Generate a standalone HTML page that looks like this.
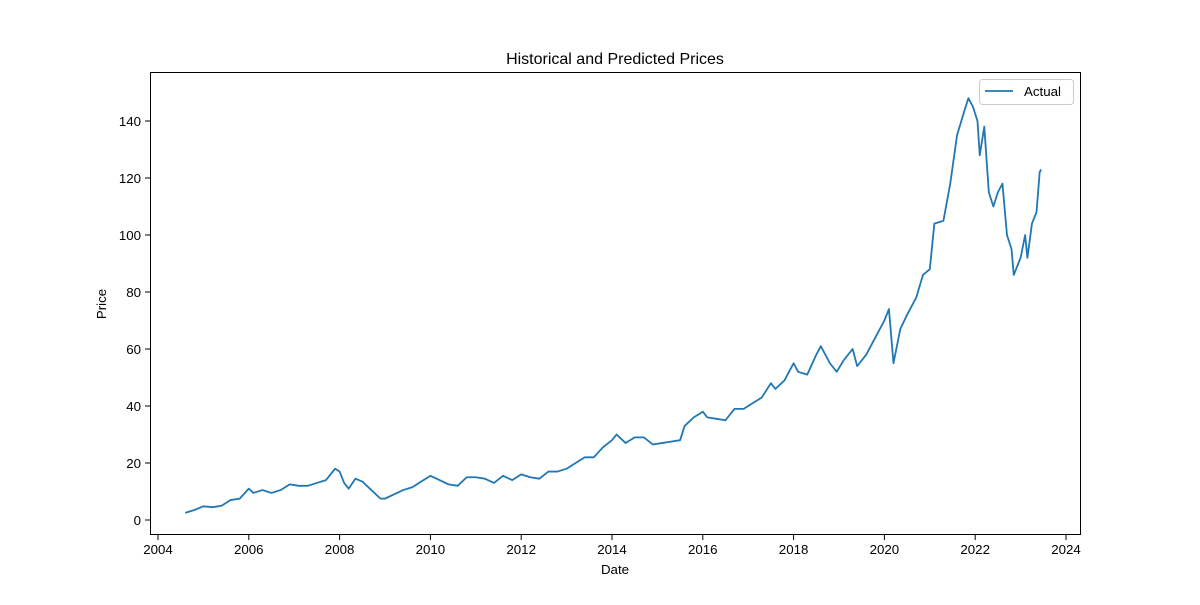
<!DOCTYPE html>
<html><head><meta charset="utf-8"><style>
body{margin:0;background:#fff;}
svg text{font-family:"Liberation Sans","DejaVu Sans",sans-serif;fill:#000;}
</style></head><body>
<svg id="chart" width="1200" height="600">
<rect width="1200" height="600" fill="#fff"/>
<text x="615" y="64" font-size="16" text-anchor="middle">Historical and Predicted Prices</text>
<text x="615" y="574" font-size="13.3" text-anchor="middle">Date</text>
<text x="106" y="304" font-size="13.3" text-anchor="middle" transform="rotate(-90 106 304)">Price</text>
<g id="ticks"></g>
<polyline id="line" fill="none" stroke="#1f77b4" stroke-width="1.8" stroke-linejoin="round"/>
<rect x="150.5" y="72.5" width="930" height="462" fill="none" stroke="#000" stroke-width="1"/>
<g>
<rect x="979.5" y="79.5" width="94" height="25" rx="3" fill="#fff" stroke="#ccc"/>
<line x1="985" y1="91" x2="1013" y2="91" stroke="#1f77b4" stroke-width="1.8"/>
<text x="1024" y="96" font-size="13.3">Actual</text>
</g>
</svg>
<script>
const dates=[2004.6,2004.8,2005.0,2005.2,2005.4,2005.6,2005.8,2006.0,2006.1,2006.3,2006.5,2006.7,2006.9,2007.1,2007.3,2007.5,2007.7,2007.9,2008.0,2008.1,2008.2,2008.35,2008.5,2008.7,2008.9,2009.0,2009.2,2009.4,2009.6,2009.8,2010.0,2010.2,2010.4,2010.6,2010.8,2011.0,2011.2,2011.4,2011.6,2011.8,2012.0,2012.2,2012.4,2012.6,2012.8,2013.0,2013.2,2013.4,2013.6,2013.8,2014.0,2014.1,2014.3,2014.5,2014.7,2014.9,2015.1,2015.3,2015.5,2015.6,2015.8,2016.0,2016.1,2016.3,2016.5,2016.7,2016.9,2017.1,2017.3,2017.5,2017.6,2017.8,2018.0,2018.1,2018.3,2018.5,2018.6,2018.8,2018.95,2019.1,2019.3,2019.4,2019.6,2019.8,2020.0,2020.1,2020.2,2020.35,2020.5,2020.7,2020.85,2021.0,2021.1,2021.3,2021.45,2021.6,2021.75,2021.85,2021.95,2022.05,2022.1,2022.2,2022.3,2022.4,2022.5,2022.6,2022.7,2022.8,2022.85,2022.95,2023.0,2023.1,2023.15,2023.25,2023.35,2023.42,2023.45];
const prices=[2.5,3.5,4.8,4.5,5.0,7.0,7.5,11.0,9.5,10.5,9.5,10.5,12.5,12.0,12.0,13.0,14.0,18.0,17,13,11,14.5,13.5,10.5,7.5,7.5,9,10.5,11.5,13.5,15.5,14,12.5,12,15,15,14.5,13,15.5,14,16,15,14.5,17,17,18,20,22,22,25.5,28,30,27,29,29,26.5,27,27.5,28,33,36,38,36,35.5,35,39,39,41,43,48,46,49,55,52,51,58,61,55,52,56,60,54,58,64,70,74,55,67,72,78,86,88,104,105,118,135,143,148,145,140,128,138,115,110,115,118,100,95,86,90,92,100,92,104,108,122,123];
const xTicks=[2004,2006,2008,2010,2012,2014,2016,2018,2020,2022,2024];
const yTicks=[0,20,40,60,80,100,120,140];
const xs=d=>158+(d-2004)*(1066-158)/20;
const ys=v=>520-v*(520-121)/140;
const NS="http://www.w3.org/2000/svg";
const g=document.getElementById('ticks');
xTicks.forEach(t=>{
 const l=document.createElementNS(NS,'line');
 l.setAttribute('x1',xs(t));l.setAttribute('x2',xs(t));l.setAttribute('y1',535);l.setAttribute('y2',540);l.setAttribute('stroke','#000');
 
 
 g.appendChild(l);
 const tx=document.createElementNS(NS,'text');
 tx.setAttribute('x',xs(t));tx.setAttribute('y',554);tx.setAttribute('font-size','13.3');tx.setAttribute('text-anchor','middle');tx.textContent=t;
 
 
 g.appendChild(tx);
});
yTicks.forEach(t=>{
 const l=document.createElementNS(NS,'line');
 l.setAttribute('x1',145);l.setAttribute('x2',150);l.setAttribute('y1',ys(t));l.setAttribute('y2',ys(t));l.setAttribute('stroke','#000');
 
 
 g.appendChild(l);
 const tx=document.createElementNS(NS,'text');
 tx.setAttribute('x',141);tx.setAttribute('y',ys(t)+5);tx.setAttribute('font-size','13.3');tx.setAttribute('text-anchor','end');tx.textContent=t;
 
 
 g.appendChild(tx);
});
document.getElementById('line').setAttribute('points',dates.map((d,i)=>xs(d)+','+ys(prices[i])).join(' '));
</script>
</body></html>
